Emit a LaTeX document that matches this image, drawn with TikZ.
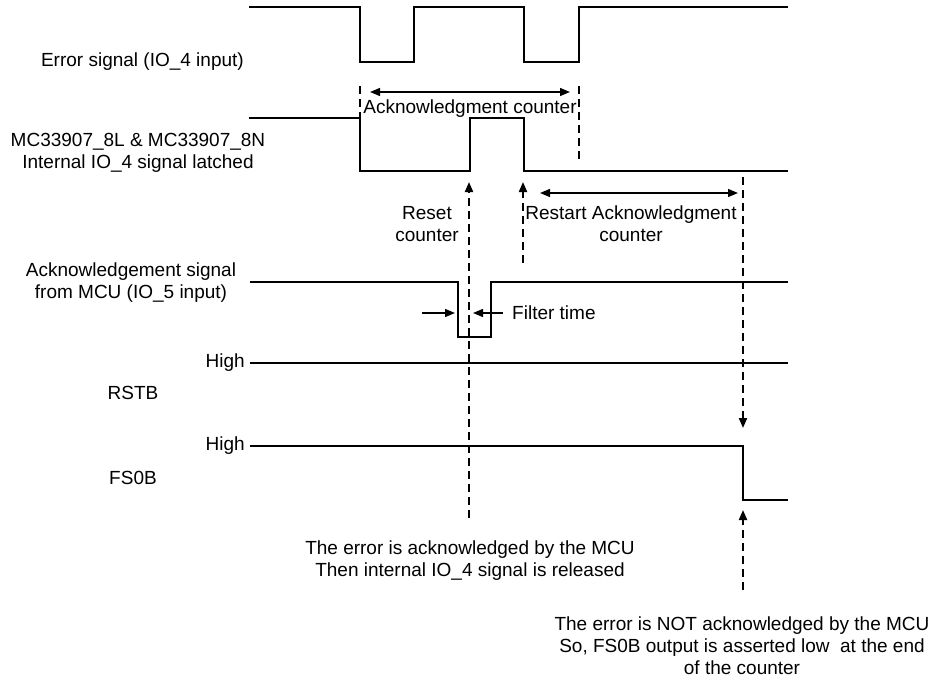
\documentclass[tikz,border=0pt]{standalone}
\usepackage{fontspec}
\setmainfont{Liberation Sans}
\usetikzlibrary{arrows.meta,positioning}

\tikzset{
  wave/.style={line width=1.3pt},
  guide/.style={line width=2pt, dash pattern=on 8pt off 5pt},
  tipend/.style={-{Triangle[length=10pt,width=8pt]}},
  span/.style={{Triangle[length=10pt,width=8pt]}-{Triangle[length=10pt,width=8pt]}, line width=1.3pt},
  lbl/.style={inner sep=0pt, align=center, font=\fontsize{19}{22}\selectfont},
}

\begin{document}
\begin{tikzpicture}[x=1pt, y=-1pt]
  \useasboundingbox (0,0) rectangle (932,680);

  % Error signal (IO_4 input)
  \draw[wave] (249,7) -| (360,62) -| (414,7) -| (524,62) -| (579,7) -- (788,7);
  \node[lbl, anchor=east] (errlbl) at (244,62) {Error signal (IO\_4 input)};

  % Internal IO_4 latched
  \draw[wave] (249,118) -| (360,171) -| (470,118) -| (524,171) -- (788,171);
  \node[lbl] (latchlbl) at (138,153) {MC33907\_8L \& MC33907\_8N\\Internal IO\_4 signal latched};

  % Acknowledgement from MCU
  \draw[wave] (250,282) -| (458,337) -| (491,282) -- (788,282);
  \node[lbl] (acklbl) at (131,283) {Acknowledgement signal\\from MCU (IO\_5 input)};

  % RSTB
  \node[lbl, anchor=east] (rsthigh) at (245,363) {High};
  \draw[wave] (250,363) -- (788,363);
  \node[lbl] (rstlbl) at (133,393) {RSTB};

  % FS0B
  \node[lbl, anchor=east] (fshigh) at (245,446) {High};
  \draw[wave] (250,446) -| (743,500) -- (788,500);
  \node[lbl] (fslbl) at (133,478) {FS0B};

  % Acknowledgment counter
  \coordinate (cntA) at (360,86);
  \coordinate (cntB) at (579,86);
  \draw[guide] (cntA) -- (360,171);
  \draw[guide] (cntB) -- (579,160);
  \coordinate (cntL) at (370,92);
  \coordinate (cntR) at (570,92);
  \draw[span] (cntL) -- (cntR);
  \node[lbl] (acknt) at (470,109) {Acknowledgment counter};

  % Reset / restart
  \coordinate (rstbot) at (469,518);
  \coordinate (rsttop) at (469,182);
  \draw[guide, tipend] (rstbot) -- (rsttop);
  \node[lbl] (rstcnt) at (427,224) {Reset\\counter};
  \coordinate (relbot) at (523,263);
  \coordinate (reltop) at (523,182);
  \draw[guide, tipend] (relbot) -- (reltop);
  \coordinate (resL) at (540,193);
  \coordinate (resR) at (738,193);
  \draw[span] (resL) -- (resR);
  \node[lbl] (restart) at (631,224) {Restart Acknowledgment\\counter};

  % End of counter
  \coordinate (endtop) at (743,177);
  \coordinate (endrst) at (743,428);
  \draw[guide, tipend] (endtop) -- (endrst);
  \coordinate (fsbot) at (743,590);
  \coordinate (fstop) at (743,510);
  \draw[guide, tipend] (fsbot) -- (fstop);

  % Filter time
  \coordinate (filtL) at (422,313);
  \coordinate (filtLt) at (455,313);
  \coordinate (filtR) at (503,313);
  \coordinate (filtRt) at (473,313);
  \draw[wave, tipend] (filtL) -- (filtLt);
  \draw[wave, tipend] (filtR) -- (filtRt);
  \node[lbl, anchor=west] (filt) at (512,313) {Filter time};

  % Notes
  \node[lbl] (ackd) at (470,561) {The error is acknowledged by the MCU\\Then internal IO\_4 signal is released};
  \node[lbl] (notackd) at (742,646) {The error is NOT acknowledged by the MCU\\So, FS0B output is asserted low\ \ at the end\\of the counter};
\end{tikzpicture}
\end{document}
